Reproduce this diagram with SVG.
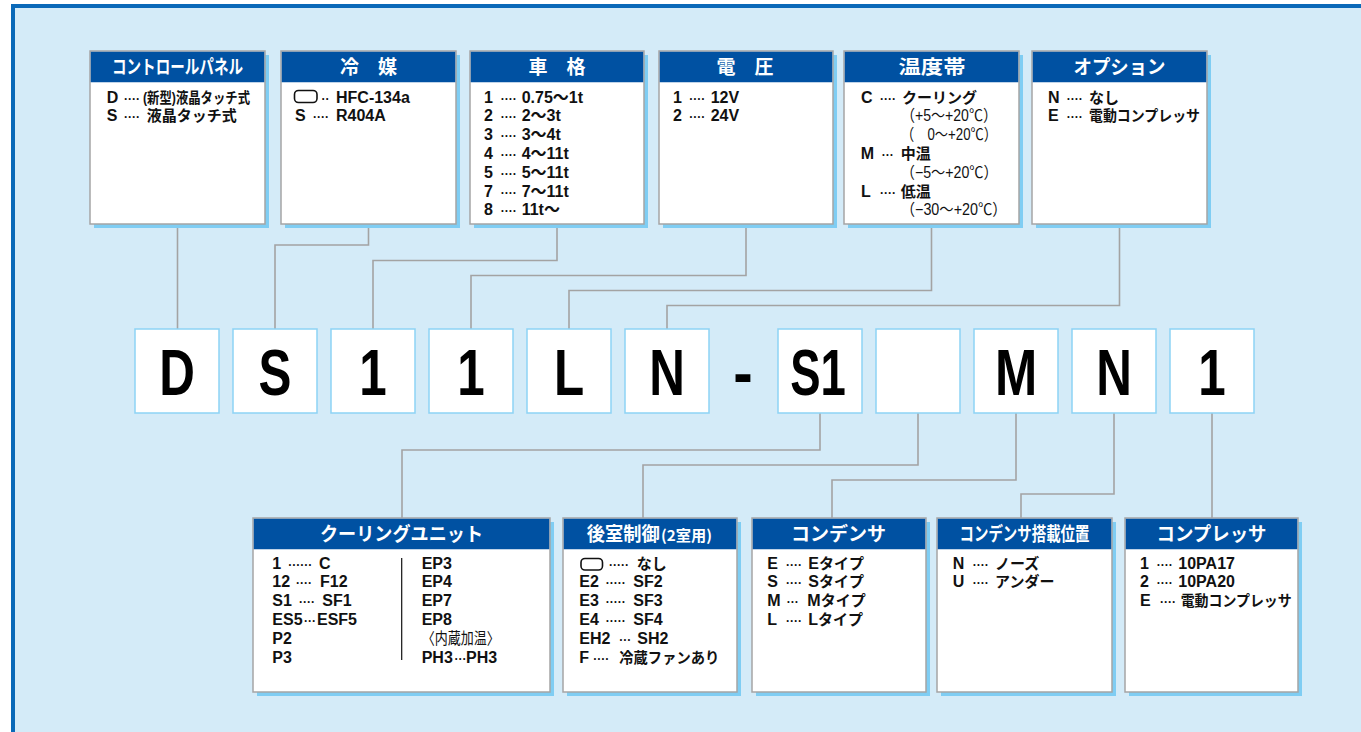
<svg xmlns="http://www.w3.org/2000/svg" width="1361" height="732" viewBox="0 0 1361 732">
<style>
.bg{fill:#d4ebf8}
.frame{fill:#0a69b8}
.sh{fill:#7fcdf3}
.box{fill:#fff;stroke:#a5a5a5;stroke-width:1.5}
.hdr{fill:#0051a2}
.ht{font-family:"Noto Sans CJK JP","Liberation Sans",sans-serif;font-weight:bold;font-size:19px;fill:#fff;text-anchor:middle}
.t{font-family:"Liberation Sans","Noto Sans CJK JP",sans-serif;font-weight:bold;font-size:16px;fill:#111}
.j{font-size:15px}
.n{font-weight:normal;font-size:16px}
.d{font-weight:bold;font-size:12px}
.code{fill:#fff;stroke:#8dd3f5;stroke-width:1.5}
.big{font-family:"Liberation Sans",sans-serif;font-weight:bold;font-size:65px;fill:#000;text-anchor:middle}
.conn{fill:none;stroke:#a3a3a3;stroke-width:1.6}
.sym{fill:#fff;stroke:#111;stroke-width:1.6}
</style>
<rect class="frame" x="11" y="4" width="1400" height="800"/>
<rect class="bg" x="15" y="8" width="1400" height="800"/>

<g id="connectors">
<path class="conn" d="M177.5,224 V329"/>
<path class="conn" d="M368.5,224 V245 H275 V329"/>
<path class="conn" d="M557,224 V260.5 H373 V329"/>
<path class="conn" d="M746,224 V275.5 H471 V329"/>
<path class="conn" d="M931.5,224 V290.5 H569 V329"/>
<path class="conn" d="M1119.5,224 V305.5 H667 V329"/>
<path class="conn" d="M820,413 V450 H402 V518"/>
<path class="conn" d="M918,413 V465 H643 V518"/>
<path class="conn" d="M1016,413 V480 H832 V518"/>
<path class="conn" d="M1114,413 V494 H1021 V518"/>
<path class="conn" d="M1212,413 V518"/>
</g>

<g id="control-panel">
<rect class="sh" x="94" y="55" width="175" height="173"/>
<rect class="box" x="90" y="51" width="175" height="173"/>
<rect class="hdr" x="90.75" y="51.75" width="173.5" height="30.5"/>
<text class="ht" x="177.5" y="73.5" textLength="131" lengthAdjust="spacingAndGlyphs">コントロールパネル</text>
<text class="t" y="102.5"><tspan x="106.7">D</tspan><tspan class="d" x="124">····</tspan></text>
<text class="t j" x="143" y="102.5" textLength="107" lengthAdjust="spacingAndGlyphs">(新型)液晶タッチ式</text>
<text class="t" y="121.3"><tspan x="106.7">S</tspan><tspan class="d" x="124">····</tspan><tspan class="j" x="146.7">液晶タッチ式</tspan></text>
</g>

<g id="refrigerant">
<rect class="sh" x="285" y="55" width="175" height="173"/>
<rect class="box" x="281" y="51" width="175" height="173"/>
<rect class="hdr" x="281.75" y="51.75" width="173.5" height="30.5"/>
<text class="ht" x="368.5" y="73.5" font-size="20">冷　媒</text>
<rect class="sym" x="294.5" y="90.5" width="22.5" height="12" rx="4"/>
<text class="t" y="102.5"><tspan class="d" x="321.5">··</tspan><tspan x="336">HFC-134a</tspan></text>
<text class="t" y="121.3"><tspan x="295">S</tspan><tspan class="d" x="313">····</tspan><tspan x="336">R404A</tspan></text>
</g>

<g id="vehicle-class">
<rect class="sh" x="474" y="55" width="174" height="173"/>
<rect class="box" x="470" y="51" width="174" height="173"/>
<rect class="hdr" x="470.75" y="51.75" width="172.5" height="30.5"/>
<text class="ht" x="557" y="73.5" font-size="20">車　格</text>
<text class="t" y="102.5"><tspan x="484">1</tspan><tspan class="d" x="500.7">····</tspan><tspan x="521.7">0.75～1t</tspan></text>
<text class="t" y="121.3"><tspan x="484">2</tspan><tspan class="d" x="500.7">····</tspan><tspan x="521.7">2～3t</tspan></text>
<text class="t" y="140.1"><tspan x="484">3</tspan><tspan class="d" x="500.7">····</tspan><tspan x="521.7">3～4t</tspan></text>
<text class="t" y="158.9"><tspan x="484">4</tspan><tspan class="d" x="500.7">····</tspan><tspan x="521.7">4～11t</tspan></text>
<text class="t" y="177.7"><tspan x="484">5</tspan><tspan class="d" x="500.7">····</tspan><tspan x="521.7">5～11t</tspan></text>
<text class="t" y="196.5"><tspan x="484">7</tspan><tspan class="d" x="500.7">····</tspan><tspan x="521.7">7～11t</tspan></text>
<text class="t" y="215.3"><tspan x="484">8</tspan><tspan class="d" x="500.7">····</tspan><tspan x="521.7">11t～</tspan></text>
</g>

<g id="voltage">
<rect class="sh" x="663" y="55" width="174" height="173"/>
<rect class="box" x="659" y="51" width="174" height="173"/>
<rect class="hdr" x="659.75" y="51.75" width="172.5" height="30.5"/>
<text class="ht" x="745" y="73.5" font-size="20">電　圧</text>
<text class="t" y="102.5"><tspan x="673">1</tspan><tspan class="d" x="689.3">····</tspan><tspan x="710.7">12V</tspan></text>
<text class="t" y="121.3"><tspan x="673">2</tspan><tspan class="d" x="689.3">····</tspan><tspan x="710.7">24V</tspan></text>
</g>

<g id="temperature">
<rect class="sh" x="848" y="55" width="175" height="173"/>
<rect class="box" x="844" y="51" width="175" height="173"/>
<rect class="hdr" x="844.75" y="51.75" width="173.5" height="30.5"/>
<text class="ht" x="932" y="73.5" font-size="20" textLength="67" lengthAdjust="spacingAndGlyphs">温度帯</text>
<text class="t" y="102.5"><tspan x="861">C</tspan><tspan class="d" x="880">····</tspan><tspan class="j" x="902">クーリング</tspan></text>
<text class="t n" x="901" y="121.3" textLength="96" lengthAdjust="spacingAndGlyphs">（+5～+20℃）</text>
<text class="t n" x="901" y="140.1" textLength="96" lengthAdjust="spacingAndGlyphs">（　0～+20℃）</text>
<text class="t" y="158.9"><tspan x="860.7">M</tspan><tspan class="d" x="881.7">···</tspan><tspan class="j" x="900.7">中温</tspan></text>
<text class="t n" x="900.7" y="177.7" textLength="97" lengthAdjust="spacingAndGlyphs">（−5～+20℃）</text>
<text class="t" y="196.5"><tspan x="861">L</tspan><tspan class="d" x="880">····</tspan><tspan class="j" x="900.7">低温</tspan></text>
<text class="t n" x="900.7" y="215.3" textLength="106" lengthAdjust="spacingAndGlyphs">（−30～+20℃）</text>
</g>

<g id="option">
<rect class="sh" x="1036" y="55" width="175" height="173"/>
<rect class="box" x="1032" y="51" width="175" height="173"/>
<rect class="hdr" x="1032.75" y="51.75" width="173.5" height="30.5"/>
<text class="ht" x="1119.5" y="73.5" textLength="92" lengthAdjust="spacingAndGlyphs">オプション</text>
<text class="t" y="102.5"><tspan x="1048">N</tspan><tspan class="d" x="1066.7">····</tspan><tspan class="j" x="1089">なし</tspan></text>
<text class="t" y="121.3"><tspan x="1048">E</tspan><tspan class="d" x="1066.7">····</tspan></text>
<text class="t j" x="1089" y="121.3" textLength="111" lengthAdjust="spacingAndGlyphs">電動コンプレッサ</text>
</g>

<g id="code">
<rect class="code" x="135" y="329" width="84" height="84"/>
<rect class="code" x="233" y="329" width="84" height="84"/>
<rect class="code" x="331" y="329" width="84" height="84"/>
<rect class="code" x="429" y="329" width="84" height="84"/>
<rect class="code" x="527" y="329" width="84" height="84"/>
<rect class="code" x="625" y="329" width="84" height="84"/>
<rect class="code" x="778" y="329" width="84" height="84"/>
<rect class="code" x="876" y="329" width="84" height="84"/>
<rect class="code" x="974" y="329" width="84" height="84"/>
<rect class="code" x="1072" y="329" width="84" height="84"/>
<rect class="code" x="1170" y="329" width="84" height="84"/>
<text class="big" transform="translate(177,395) scale(0.76,1)">D</text>
<text class="big" transform="translate(275,395) scale(0.76,1)">S</text>
<text class="big" transform="translate(373,395) scale(0.76,1)">1</text>
<text class="big" transform="translate(471,395) scale(0.76,1)">1</text>
<text class="big" transform="translate(569,395) scale(0.76,1)">L</text>
<text class="big" transform="translate(667,395) scale(0.76,1)">N</text>
<text class="big" transform="translate(743,395) scale(0.9,1)">-</text>
<text class="big" transform="translate(818,395) scale(0.7,1)">S1</text>
<text class="big" transform="translate(1016,395) scale(0.78,1)">M</text>
<text class="big" transform="translate(1114,395) scale(0.76,1)">N</text>
<text class="big" transform="translate(1212,395) scale(0.76,1)">1</text>
</g>

<g id="cooling-unit">
<rect class="sh" x="257" y="522" width="297" height="174"/>
<rect class="box" x="253" y="518" width="297" height="174"/>
<rect class="hdr" x="253.75" y="518.75" width="295.5" height="30.5"/>
<text class="ht" x="401.5" y="541" textLength="163" lengthAdjust="spacingAndGlyphs">クーリングユニット</text>
<text class="t" y="568.5"><tspan x="272.3">1</tspan><tspan class="d" x="288.3">······</tspan><tspan x="319">C</tspan></text>
<text class="t" y="587.3"><tspan x="272.3">12</tspan><tspan class="d" x="296">····</tspan><tspan x="320">F12</tspan></text>
<text class="t" y="606.1"><tspan x="272.3">S1</tspan><tspan class="d" x="299">····</tspan><tspan x="322.3">SF1</tspan></text>
<text class="t" y="624.9"><tspan x="272.3">ES5</tspan><tspan class="d" x="304">···</tspan><tspan x="317">ESF5</tspan></text>
<text class="t" x="272.3" y="643.7">P2</text>
<text class="t" x="272.3" y="662.5">P3</text>
<line x1="401.7" y1="558" x2="401.7" y2="660" stroke="#111" stroke-width="1.2"/>
<text class="t" x="421.7" y="568.5">EP3</text>
<text class="t" x="421.7" y="587.3">EP4</text>
<text class="t" x="421.7" y="606.1">EP7</text>
<text class="t" x="421.7" y="624.9">EP8</text>
<text class="t n" x="421.7" y="643.7" textLength="78" lengthAdjust="spacingAndGlyphs">〈内蔵加温〉</text>
<text class="t" y="662.5"><tspan x="421.7">PH3</tspan><tspan class="d" x="454.5">···</tspan><tspan x="466">PH3</tspan></text>
</g>

<g id="rear-control">
<rect class="sh" x="567" y="522" width="174" height="174"/>
<rect class="box" x="563" y="518" width="174" height="174"/>
<rect class="hdr" x="563.75" y="518.75" width="172.5" height="30.5"/>
<text class="ht" x="586.7" y="541" style="text-anchor:start" textLength="73" lengthAdjust="spacingAndGlyphs">後室制御</text>
<text class="ht" x="661" y="541" style="text-anchor:start;font-size:15px" textLength="51" lengthAdjust="spacingAndGlyphs">(2室用)</text>
<rect class="sym" x="581" y="558.5" width="21.5" height="11.5" rx="4"/>
<text class="t" y="568.5"><tspan class="d" x="609">·····</tspan><tspan class="j" x="636.7">なし</tspan></text>
<text class="t" y="587.3"><tspan x="579.3">E2</tspan><tspan class="d" x="605.7">·····</tspan><tspan x="633.3">SF2</tspan></text>
<text class="t" y="606.1"><tspan x="579.3">E3</tspan><tspan class="d" x="605.7">·····</tspan><tspan x="633.3">SF3</tspan></text>
<text class="t" y="624.9"><tspan x="579.3">E4</tspan><tspan class="d" x="605.7">·····</tspan><tspan x="633.3">SF4</tspan></text>
<text class="t" y="643.7"><tspan x="579.3">EH2</tspan><tspan class="d" x="619.3">···</tspan><tspan x="637.3">SH2</tspan></text>
<text class="t" y="662.5"><tspan x="579.3">F</tspan><tspan class="d" x="593.3">····</tspan></text>
<text class="t j" x="619.3" y="662.5" textLength="100" lengthAdjust="spacingAndGlyphs">冷蔵ファンあり</text>
</g>

<g id="condenser">
<rect class="sh" x="756" y="522" width="174" height="174"/>
<rect class="box" x="752" y="518" width="174" height="174"/>
<rect class="hdr" x="752.75" y="518.75" width="172.5" height="30.5"/>
<text class="ht" x="838.5" y="541" textLength="95" lengthAdjust="spacingAndGlyphs">コンデンサ</text>
<text class="t" y="568.5"><tspan x="767.3">E</tspan><tspan class="d" x="786">····</tspan><tspan x="808.3">E</tspan><tspan class="j">タイプ</tspan></text>
<text class="t" y="587.3"><tspan x="767.3">S</tspan><tspan class="d" x="786">····</tspan><tspan x="808.3">S</tspan><tspan class="j">タイプ</tspan></text>
<text class="t" y="606.1"><tspan x="767.3">M</tspan><tspan class="d" x="786.7">···</tspan><tspan x="807.3">M</tspan><tspan class="j">タイプ</tspan></text>
<text class="t" y="624.9"><tspan x="767.3">L</tspan><tspan class="d" x="786">····</tspan><tspan x="808.3">L</tspan><tspan class="j">タイプ</tspan></text>
</g>

<g id="condenser-position">
<rect class="sh" x="941" y="522" width="175" height="174"/>
<rect class="box" x="937" y="518" width="175" height="174"/>
<rect class="hdr" x="937.75" y="518.75" width="173.5" height="30.5"/>
<text class="ht" x="1024.5" y="541" textLength="130" lengthAdjust="spacingAndGlyphs">コンデンサ搭載位置</text>
<text class="t" y="568.5"><tspan x="952.7">N</tspan><tspan class="d" x="972.7">····</tspan><tspan class="j" x="995">ノーズ</tspan></text>
<text class="t" y="587.3"><tspan x="952.7">U</tspan><tspan class="d" x="972.7">····</tspan><tspan class="j" x="995">アンダー</tspan></text>
</g>

<g id="compressor">
<rect class="sh" x="1129" y="522" width="173" height="174"/>
<rect class="box" x="1125" y="518" width="173" height="174"/>
<rect class="hdr" x="1125.75" y="518.75" width="171.5" height="30.5"/>
<text class="ht" x="1211.5" y="541" textLength="110" lengthAdjust="spacingAndGlyphs">コンプレッサ</text>
<text class="t" y="568.5"><tspan x="1140">1</tspan><tspan class="d" x="1156.7">····</tspan><tspan x="1178.3">10PA17</tspan></text>
<text class="t" y="587.3"><tspan x="1140">2</tspan><tspan class="d" x="1156.7">····</tspan><tspan x="1178.3">10PA20</tspan></text>
<text class="t" y="606.1"><tspan x="1140">E</tspan><tspan class="d" x="1160">····</tspan></text>
<text class="t j" x="1180.7" y="606.1" textLength="111" lengthAdjust="spacingAndGlyphs">電動コンプレッサ</text>
</g>
</svg>
